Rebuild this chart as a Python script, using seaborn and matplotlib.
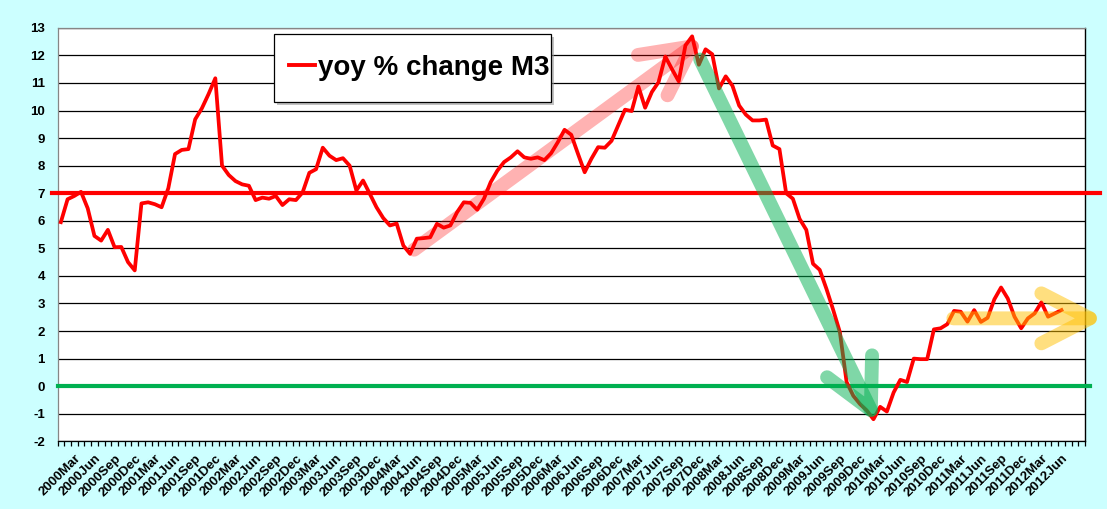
import numpy as np
import pandas as pd
import matplotlib
matplotlib.use("Agg")
import matplotlib.pyplot as plt
import seaborn as sns
from matplotlib.patches import Rectangle, FancyArrowPatch, ArrowStyle
from matplotlib.lines import Line2D

# ---------------- data ----------------
month_names = ["Jan", "Feb", "Mar", "Apr", "May", "Jun",
               "Jul", "Aug", "Sep", "Oct", "Nov", "Dec"]
years = list(range(2000, 2013))
categories = [f"{y}{m}" for y in years for m in month_names][:150]   # 2000Jan .. 2012Jun
blank_categories = 3                                                  # empty rows after the data

m3_yoy = [
    5.95, 6.78, 6.90, 7.05, 6.45, 5.45, 5.28, 5.67, 5.04, 5.05, 4.50, 4.20,
    6.63, 6.67, 6.60, 6.49, 7.18, 8.42, 8.57, 8.60, 9.68, 10.08, 10.60, 11.17,
    8.00, 7.66, 7.44, 7.32, 7.27, 6.75, 6.84, 6.80, 6.90, 6.57, 6.78, 6.75,
    7.03, 7.74, 7.87, 8.65, 8.36, 8.20, 8.27, 8.00, 7.10, 7.46, 6.98, 6.49,
    6.10, 5.83, 5.90, 5.10, 4.80, 5.35, 5.37, 5.40, 5.89, 5.75, 5.83, 6.31,
    6.67, 6.65, 6.40, 6.80, 7.40, 7.82, 8.13, 8.30, 8.52, 8.30, 8.25, 8.30,
    8.20, 8.45, 8.85, 9.30, 9.12, 8.43, 7.76, 8.25, 8.67, 8.65, 8.90, 9.46,
    10.03, 9.98, 10.87, 10.10, 10.67, 11.03, 11.96, 11.50, 11.06, 12.36, 12.69, 11.66,
    12.22, 12.04, 10.80, 11.24, 10.90, 10.18, 9.85, 9.64, 9.64, 9.67, 8.73, 8.60,
    7.00, 6.80, 6.07, 5.67, 4.44, 4.22, 3.53, 2.77, 1.96, 0.15, -0.35, -0.65,
    -0.88, -1.20, -0.75, -0.92, -0.23, 0.23, 0.15, 1.00, 0.98, 0.98, 2.06, 2.10,
    2.25, 2.73, 2.70, 2.34, 2.76, 2.33, 2.48, 3.15, 3.58, 3.18, 2.52, 2.10,
    2.46, 2.64, 3.04, 2.52, 2.64, 2.76,
]
reference_target = [7]
reference_zero = [0]
y_ticks = list(range(-2, 14))
label_step = 3
label_start = 2          # first labelled category: 2000Mar
legend_label = "yoy % change M3"

# ---------------- style ----------------
plt.rcParams["font.family"] = ["Liberation Sans", "DejaVu Sans"]
plt.rcParams["font.weight"] = "bold"

W, H = 1107, 509
fig = plt.figure(figsize=(W / 100, H / 100), dpi=100)
fig.patch.set_facecolor("#CCFFFF")

L, R, T, B = 57.5, 1085, 27.8, 441.3
ax = fig.add_axes([L / W, 1 - B / H, (R - L) / W, (B - T) / H])
ax.set_facecolor("white")

df = pd.DataFrame({"idx": np.arange(len(m3_yoy)), "value": m3_yoy, "month": categories})
sns.lineplot(data=df, x="idx", y="value", color="#FF0000", lw=2.7, ax=ax,
             legend=False, zorder=3)

n_cat = len(categories) + blank_categories
ax.set_xlim(-0.5, n_cat - 0.5)
ax.set_ylim(min(y_ticks), max(y_ticks))
ax.set_xlabel("")
ax.set_ylabel("")

# y axis
ax.set_yticks(y_ticks)
ax.set_yticklabels([str(t) for t in y_ticks], fontsize=9.5, fontweight="bold")
ax.tick_params(axis="y", length=0, pad=9)
ax.grid(axis="y", color="black", lw=0.9)
ax.grid(axis="x", visible=False)
ax.set_axisbelow(True)

# x axis
lab_idx = list(range(label_start, len(categories), label_step))
ax.set_xticks(lab_idx)
ax.set_xticklabels([categories[i] for i in lab_idx], rotation=45, ha="right",
                   va="top", rotation_mode="anchor", fontsize=9.5, fontweight="bold")
ax.tick_params(axis="x", which="major", length=0, pad=8)
ax.set_xticks(np.arange(n_cat + 1) - 0.5, minor=True)
ax.tick_params(axis="x", which="minor", length=3.5, width=0.9, color="black", direction="out")

for s in ["left", "top"]:
    ax.spines[s].set_color("#868686")
    ax.spines[s].set_linewidth(0.9)
ax.spines["right"].set_color("black")
ax.spines["right"].set_linewidth(1.0)
ax.spines["bottom"].set_color("black")
ax.spines["bottom"].set_linewidth(0.9)

# reference lines
for v in reference_target:
    ax.axhline(v, xmin=-0.0054, xmax=1.0146, color="#FF0000", lw=3.0, clip_on=False, zorder=2.6)
for v in reference_zero:
    ax.axhline(v, xmin=0.0, xmax=1.0049, color="#00B050", lw=3.0, clip_on=False, zorder=2.6)

# trend arrows (annotations, in data coordinates)
def trend_arrow(tail, tip, color, alpha):
    style = ArrowStyle("->", head_length=1.75, head_width=0.9)
    a = FancyArrowPatch(tail, tip, arrowstyle=style, mutation_scale=20, lw=10,
                        color=color, alpha=alpha, capstyle="round", joinstyle="round",
                        shrinkA=0, shrinkB=0, clip_on=False, zorder=5,
                        transform=ax.transData)
    ax.add_patch(a)

trend_arrow((52.6, 4.95), (95.8, 12.65), "#FF0000", 0.3)
trend_arrow((95.2, 11.85), (121.6, -1.36), "#00B050", 0.5)
trend_arrow((132.9, 2.46), (155.5, 2.46), "#FFC000", 0.5)

# legend box
bx0, by0, bx1, by1 = 274, 34, 551, 102
fig.patches.append(Rectangle(((bx0 + 3) / W, 1 - (by1 + 3) / H), (bx1 - bx0) / W, (by1 - by0) / H,
                             transform=fig.transFigure, facecolor="#9a9a9a", alpha=0.6,
                             edgecolor="none", zorder=9))
fig.patches.append(Rectangle((bx0 / W, 1 - by1 / H), (bx1 - bx0) / W, (by1 - by0) / H,
                             transform=fig.transFigure, facecolor="white",
                             edgecolor="black", lw=0.9, zorder=10))
handle = Line2D([], [], color="#FF0000", lw=2.8)
leg = fig.legend([handle], [legend_label], loc="center left",
                 bbox_to_anchor=(289 / W, 1 - 68 / H), bbox_transform=fig.transFigure,
                 frameon=False, prop={"size": 20, "weight": "bold"},
                 handlelength=0.95, handletextpad=0.1, borderpad=0, borderaxespad=0)
leg.set_zorder(11)

fig.savefig("out.png", dpi=100, facecolor=fig.get_facecolor())
